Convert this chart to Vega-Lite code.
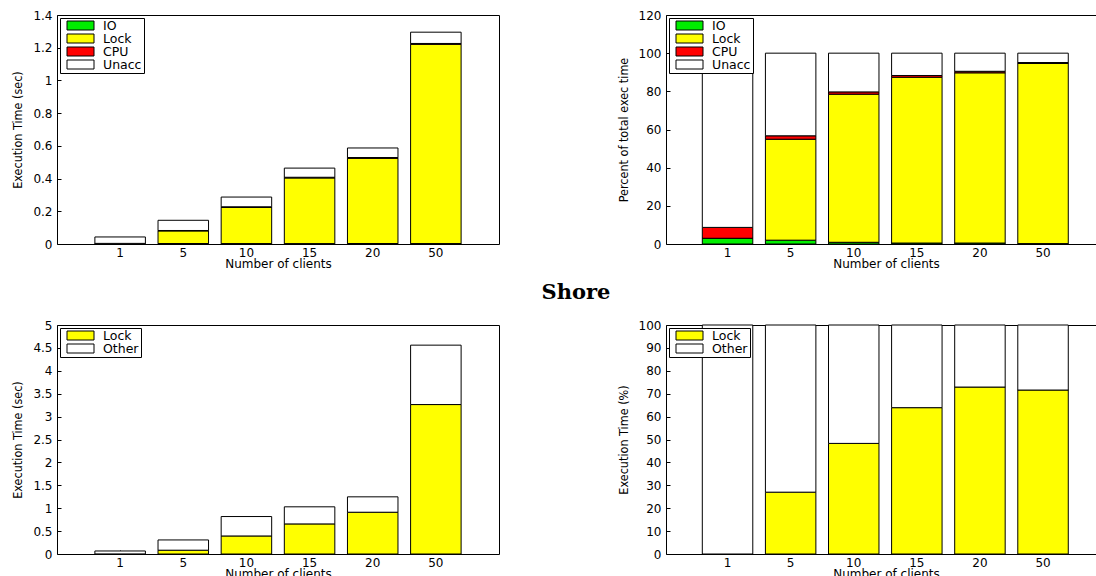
{
  "$schema": "https://vega.github.io/schema/vega-lite/v6.json",
  "padding": {"left": 11, "top": 8, "right": 0, "bottom": 0},
  "background": "white",
  "config": {
    "view": {"stroke": "black", "strokeWidth": 1},
    "font": "DejaVu Sans",
    "bar": {"stroke": "black", "strokeWidth": 1},
    "axis": {
      "labelFont": "DejaVu Sans", "labelFontSize": 12, "labelColor": "black",
      "titleFontWeight": "normal", "titleColor": "black",
      "tickColor": "black", "tickSize": -4, "domain": false, "grid": false
    },
    "axisX": {"labelAngle": 0, "labelPadding": 7, "titlePadding": 0, "titleFont": "DejaVu Sans", "titleFontSize": 12},
    "axisY": {"labelPadding": 9, "titleFont": "Liberation Sans Narrow, DejaVu Sans Condensed, Liberation Sans", "titleFontSize": 12.5, "titlePadding": 8},
    "legend": {
      "orient": "top-left", "offset": 3, "title": null,
      "strokeColor": "black", "fillColor": "white", "padding": 2, "rowPadding": 0,
      "labelFont": "DejaVu Sans", "labelFontSize": 12.5, "labelColor": "black",
      "symbolType": "M-0.5,-0.5H2.5V0.5H-0.5Z", "symbolSize": 324,
      "symbolStrokeColor": "black", "symbolStrokeWidth": 1, "symbolOpacity": 1,
      "labelOffset": 22, "clipHeight": 11
    }
  },
  "datasets": {
    "tl": [
      {"clients": "1", "part": "IO", "value": 0.0013}, {"clients": "1", "part": "Lock", "value": 0.0}, {"clients": "1", "part": "CPU", "value": 0.0025}, {"clients": "1", "part": "Unacc", "value": 0.0392},
      {"clients": "5", "part": "IO", "value": 0.003}, {"clients": "5", "part": "Lock", "value": 0.077}, {"clients": "5", "part": "CPU", "value": 0.0026}, {"clients": "5", "part": "Unacc", "value": 0.0624},
      {"clients": "10", "part": "IO", "value": 0.0026}, {"clients": "10", "part": "Lock", "value": 0.2214}, {"clients": "10", "part": "CPU", "value": 0.0034}, {"clients": "10", "part": "Unacc", "value": 0.0596},
      {"clients": "15", "part": "IO", "value": 0.0023}, {"clients": "15", "part": "Lock", "value": 0.4015}, {"clients": "15", "part": "CPU", "value": 0.0042}, {"clients": "15", "part": "Unacc", "value": 0.056},
      {"clients": "20", "part": "IO", "value": 0.003}, {"clients": "20", "part": "Lock", "value": 0.521}, {"clients": "20", "part": "CPU", "value": 0.0047}, {"clients": "20", "part": "Unacc", "value": 0.0583},
      {"clients": "50", "part": "IO", "value": 0.0026}, {"clients": "50", "part": "Lock", "value": 1.2184}, {"clients": "50", "part": "CPU", "value": 0.005}, {"clients": "50", "part": "Unacc", "value": 0.069}
    ],
    "tr": [
      {"clients": "1", "part": "IO", "value": 3.0}, {"clients": "1", "part": "Lock", "value": 0.0}, {"clients": "1", "part": "CPU", "value": 5.7}, {"clients": "1", "part": "Unacc", "value": 91.3},
      {"clients": "5", "part": "IO", "value": 2.0}, {"clients": "5", "part": "Lock", "value": 52.9}, {"clients": "5", "part": "CPU", "value": 1.8}, {"clients": "5", "part": "Unacc", "value": 43.3},
      {"clients": "10", "part": "IO", "value": 0.9}, {"clients": "10", "part": "Lock", "value": 77.6}, {"clients": "10", "part": "CPU", "value": 1.2}, {"clients": "10", "part": "Unacc", "value": 20.3},
      {"clients": "15", "part": "IO", "value": 0.5}, {"clients": "15", "part": "Lock", "value": 86.9}, {"clients": "15", "part": "CPU", "value": 0.9}, {"clients": "15", "part": "Unacc", "value": 11.7},
      {"clients": "20", "part": "IO", "value": 0.5}, {"clients": "20", "part": "Lock", "value": 89.2}, {"clients": "20", "part": "CPU", "value": 0.8}, {"clients": "20", "part": "Unacc", "value": 9.5},
      {"clients": "50", "part": "IO", "value": 0.2}, {"clients": "50", "part": "Lock", "value": 94.4}, {"clients": "50", "part": "CPU", "value": 0.5}, {"clients": "50", "part": "Unacc", "value": 4.9}
    ],
    "bl": [
      {"clients": "1", "part": "Lock", "value": 0.002}, {"clients": "1", "part": "Other", "value": 0.064},
      {"clients": "5", "part": "Lock", "value": 0.083}, {"clients": "5", "part": "Other", "value": 0.224},
      {"clients": "10", "part": "Lock", "value": 0.394}, {"clients": "10", "part": "Other", "value": 0.424},
      {"clients": "15", "part": "Lock", "value": 0.657}, {"clients": "15", "part": "Other", "value": 0.373},
      {"clients": "20", "part": "Lock", "value": 0.912}, {"clients": "20", "part": "Other", "value": 0.336},
      {"clients": "50", "part": "Lock", "value": 3.263}, {"clients": "50", "part": "Other", "value": 1.297}
    ],
    "br": [
      {"clients": "1", "part": "Lock", "value": 0.0}, {"clients": "1", "part": "Other", "value": 100.0},
      {"clients": "5", "part": "Lock", "value": 27.0}, {"clients": "5", "part": "Other", "value": 73.0},
      {"clients": "10", "part": "Lock", "value": 48.3}, {"clients": "10", "part": "Other", "value": 51.7},
      {"clients": "15", "part": "Lock", "value": 63.9}, {"clients": "15", "part": "Other", "value": 36.1},
      {"clients": "20", "part": "Lock", "value": 72.9}, {"clients": "20", "part": "Other", "value": 27.1},
      {"clients": "50", "part": "Lock", "value": 71.6}, {"clients": "50", "part": "Other", "value": 28.4}
    ]
  },
  "spacing": 11,
  "resolve": {"scale": {"color": "independent"}, "legend": {"color": "independent"}},
  "vconcat": [
    {
      "bounds": "flush",
      "spacing": 167,
      "resolve": {"scale": {"color": "independent"}, "legend": {"color": "independent"}},
      "hconcat": [
        {
          "width": 442, "height": 229,
          "data": {"name": "tl"},
          "transform": [{"calculate": "indexof(['IO','Lock','CPU','Unacc'], datum.part)", "as": "stackIndex"}],
          "mark": {"type": "bar"},
          "encoding": {
            "x": {"field": "clients", "type": "ordinal", "sort": ["1", "5", "10", "15", "20", "50"], "scale": {"paddingInner": 0.2, "paddingOuter": 0.6}, "axis": {"title": "Number of clients"}},
            "y": {"field": "value", "type": "quantitative", "stack": "zero", "scale": {"domain": [0, 1.4], "nice": false}, "axis": {"title": "Execution Time (sec)", "values": [0, 0.2, 0.4, 0.6, 0.8, 1, 1.2, 1.4], "format": "~g"}},
            "color": {"field": "part", "type": "nominal", "sort": ["IO", "Lock", "CPU", "Unacc"], "scale": {"domain": ["IO", "Lock", "CPU", "Unacc"], "range": ["#00ee00", "#ffff00", "#ff0000", "#ffffff"]}},
            "order": {"field": "stackIndex", "type": "quantitative", "sort": "ascending"}
          }
        },
        {
          "width": 430, "height": 229,
          "data": {"name": "tr"},
          "transform": [{"calculate": "indexof(['IO','Lock','CPU','Unacc'], datum.part)", "as": "stackIndex"}],
          "mark": {"type": "bar"},
          "encoding": {
            "x": {"field": "clients", "type": "ordinal", "sort": ["1", "5", "10", "15", "20", "50"], "scale": {"paddingInner": 0.2, "paddingOuter": 0.5075, "align": 0.567}, "axis": {"title": "Number of clients", "titleX": 220}},
            "y": {"field": "value", "type": "quantitative", "stack": "zero", "scale": {"domain": [0, 120], "nice": false}, "axis": {"title": "Percent of total exec time", "values": [0, 20, 40, 60, 80, 100, 120]}},
            "color": {"field": "part", "type": "nominal", "sort": ["IO", "Lock", "CPU", "Unacc"], "scale": {"domain": ["IO", "Lock", "CPU", "Unacc"], "range": ["#00ee00", "#ffff00", "#ff0000", "#ffffff"]}},
            "order": {"field": "stackIndex", "type": "quantitative", "sort": "ascending"}
          }
        }
      ]
    },
    {
      "title": {"text": "Shore", "font": "DejaVu Serif", "fontSize": 21, "fontWeight": "bold", "anchor": "middle", "frame": "group", "dx": 519, "offset": -1, "baseline": "alphabetic", "color": "black"},
      "bounds": "flush",
      "spacing": 167,
      "resolve": {"scale": {"color": "independent"}, "legend": {"color": "independent"}},
      "hconcat": [
        {
          "width": 442, "height": 229,
          "data": {"name": "bl"},
          "mark": {"type": "bar"},
          "encoding": {
            "x": {"field": "clients", "type": "ordinal", "sort": ["1", "5", "10", "15", "20", "50"], "scale": {"paddingInner": 0.2, "paddingOuter": 0.6}, "axis": {"title": "Number of clients"}},
            "y": {"field": "value", "type": "quantitative", "stack": "zero", "scale": {"domain": [0, 5], "nice": false}, "axis": {"title": "Execution Time (sec)", "values": [0, 0.5, 1, 1.5, 2, 2.5, 3, 3.5, 4, 4.5, 5], "format": "~g"}},
            "color": {"field": "part", "type": "nominal", "sort": ["Lock", "Other"], "scale": {"domain": ["Lock", "Other"], "range": ["#ffff00", "#ffffff"]}},
            "order": {"field": "part", "type": "nominal", "sort": "ascending"}
          }
        },
        {
          "width": 430, "height": 229,
          "data": {"name": "br"},
          "mark": {"type": "bar"},
          "encoding": {
            "x": {"field": "clients", "type": "ordinal", "sort": ["1", "5", "10", "15", "20", "50"], "scale": {"paddingInner": 0.2, "paddingOuter": 0.5075, "align": 0.567}, "axis": {"title": "Number of clients", "titleX": 220}},
            "y": {"field": "value", "type": "quantitative", "stack": "zero", "scale": {"domain": [0, 100], "nice": false}, "axis": {"title": "Execution Time (%)", "values": [0, 10, 20, 30, 40, 50, 60, 70, 80, 90, 100]}},
            "color": {"field": "part", "type": "nominal", "sort": ["Lock", "Other"], "scale": {"domain": ["Lock", "Other"], "range": ["#ffff00", "#ffffff"]}},
            "order": {"field": "part", "type": "nominal", "sort": "ascending"}
          }
        }
      ]
    }
  ]
}
